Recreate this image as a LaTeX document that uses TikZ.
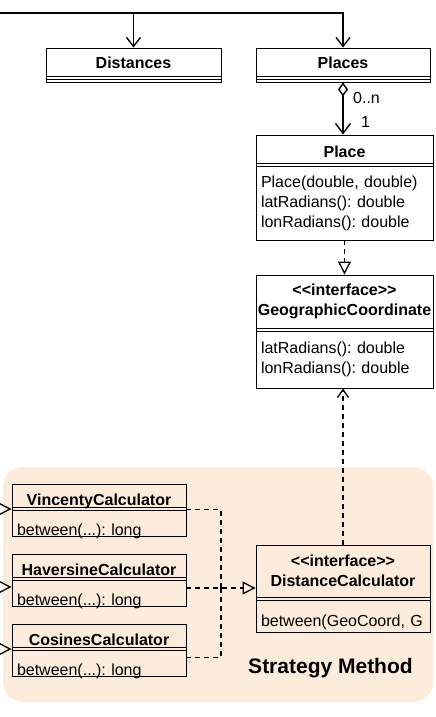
\documentclass[tikz,border=0pt]{standalone}
\usepackage{fontspec}
\setmainfont{Liberation Sans}
\usepackage{xcolor}
\definecolor{fdebdb}{HTML}{FDEBDB}
\usepackage{tikz}
\usetikzlibrary{arrows.meta}
\frenchspacing

\begin{document}
\begin{tikzpicture}[x=1pt, y=-1pt,
    cls/.style={draw, line width=0.9pt, inner sep=0pt},
    hdr/.style={cls, font=\bfseries\fontsize{16}{20}\selectfont, align=center},
    ops/.style={cls, font=\fontsize{16}{20}\selectfont, align=left, inner xsep=5pt},
    lbl/.style={inner sep=0pt, font=\fontsize{16}{20}\selectfont},
    panel/.style={fill=fdebdb, rounded corners=20pt, inner sep=0pt},
    assoc/.style={line width=1.4pt, -{Straight Barb[length=9pt, width=14pt]}},
    aggr/.style={line width=1.4pt, {Diamond[open, length=14pt, width=10pt]}-{Straight Barb[length=10pt, width=15pt]}},
    realize/.style={line width=1.3pt, dash pattern=on 5pt off 4pt, -{Triangle[open, length=13pt, width=13pt]}},
    depend/.style={line width=1.3pt, dash pattern=on 5pt off 4pt, -{Straight Barb[length=8pt, width=11pt]}},
    dep/.style={line width=1.3pt, dash pattern=on 5pt off 4pt},
    gen/.style={line width=1.3pt, -{Triangle[open, length=13pt, width=13pt]}}]
                        \useasboundingbox (0, 0) rectangle (436, 717);
                        \fill[white] (0, 0) rectangle (436, 717);
                        \clip (0, 0) rectangle (436, 717);

                        \node (strategy) at (218, 584.5) [panel, minimum width=430pt, minimum height=235pt] {};
                        \node (strat-lbl) at (330.5, 666) [inner sep=0pt, font=\bfseries\fontsize{21}{25}\selectfont, text height=15pt, text depth=0pt] {Strategy Method};

                        \node (dist) at (133.5, 62) [hdr, minimum width=175pt, minimum height=28pt, text height=13.6pt, text depth=0pt] {Distances};
                        \node (dist-a) at (133.5, 77.5) [cls, minimum width=175pt, minimum height=3pt] {};
                        \node (dist-m) at (133.5, 80.5) [cls, minimum width=175pt, minimum height=3pt] {};

                        \node (places) at (343, 62) [hdr, minimum width=174pt, minimum height=28pt, text height=13.6pt, text depth=0pt] {Places};
                        \node (places-a) at (343, 77.5) [cls, minimum width=174pt, minimum height=3pt] {};
                        \node (places-m) at (343, 80.5) [cls, minimum width=174pt, minimum height=3pt] {};

                        \node (place) at (344.5, 149) [hdr, minimum width=177pt, minimum height=28pt, text height=17.6pt, text depth=0pt] {Place};
                        \node (place-a) at (344.5, 164.5) [cls, minimum width=177pt, minimum height=3pt] {};
                        \node (place-m) at (344.5, 203) [ops, minimum width=177pt, minimum height=74pt, text width=167pt] {Place(double, double)\\latRadians(): double\\lonRadians(): double};

                        \node (geo) at (344.5, 301.5) [hdr, minimum width=177pt, minimum height=53pt] {<{}<interface>{}>\\GeographicCoordinate};
                        \node (geo-a) at (344.5, 329.5) [cls, minimum width=177pt, minimum height=3pt] {};
                        \node (geo-m) at (344.5, 359.5) [ops, minimum width=177pt, minimum height=57pt, text width=167pt] {latRadians(): double\\lonRadians(): double};

                        \node (vinc) at (99, 495.5) [hdr, minimum width=174pt, minimum height=23pt, text height=19.6pt, text depth=0pt] {VincentyCalculator};
                        \node (vinc-a) at (99, 508.5) [cls, minimum width=174pt, minimum height=3pt] {};
                        \node (vinc-m) at (99, 523) [ops, minimum width=174pt, minimum height=26pt, text width=164pt, text height=25.6pt, text depth=0pt] {between(...): long};

                        \node (hav) at (99, 565.5) [hdr, minimum width=174pt, minimum height=23pt, text height=19.6pt, text depth=0pt] {HaversineCalculator};
                        \node (hav-a) at (99, 578.5) [cls, minimum width=174pt, minimum height=3pt] {};
                        \node (hav-m) at (99, 593) [ops, minimum width=174pt, minimum height=26pt, text width=164pt, text height=25.6pt, text depth=0pt] {between(...): long};

                        \node (cos) at (99, 635.5) [hdr, minimum width=174pt, minimum height=23pt, text height=19.6pt, text depth=0pt] {CosinesCalculator};
                        \node (cos-a) at (99, 648.5) [cls, minimum width=174pt, minimum height=3pt] {};
                        \node (cos-m) at (99, 663) [ops, minimum width=174pt, minimum height=26pt, text width=164pt, text height=25.6pt, text depth=0pt] {between(...): long};

                        \node (calc) at (343, 571) [hdr, minimum width=174pt, minimum height=52pt] {<{}<interface>{}>\\DistanceCalculator};
                        \node (calc-a) at (343, 598.5) [cls, minimum width=174pt, minimum height=3pt] {};
                        \node (calc-m) at (343, 616) [ops, minimum width=174pt, minimum height=32pt, text width=164pt, text height=20.6pt, text depth=0pt] {between(GeoCoord, G};

                        \coordinate (src) at (0, 13);
                        \coordinate (merge) at (221, 588);
                        \coordinate (vinc-src) at (-20, 509);
                        \coordinate (hav-src) at (-20, 587);
                        \coordinate (cos-src) at (-20, 649);

                        \draw[assoc] (src) -| (dist);
                        \draw[assoc] (src) -| (places);
                        \draw[aggr] (places-m.south) -- (places-m.south |- place.north);
                        \node (mult-n) at (353, 98) [lbl, anchor=west] {0..n};
                        \node (mult-1) at (361, 122) [lbl, anchor=west] {1};
                        \draw[realize] (place-m) -- (geo);
                        \draw[depend] (calc.north) -- (calc.north |- geo-m.south);

                        \draw[dep] (vinc-m.north east) -| (merge);
                        \draw[dep] ([yshift=-8pt]cos-m.north east) -| (merge);
                        \draw[realize] (hav-m.east |- merge) -- (calc.west |- merge);

                        \draw[gen] (vinc-src) -- (vinc-src -| vinc.west);
                        \draw[gen] (hav-src) -- (hav-src -| hav.west);
                        \draw[gen] (cos-src) -- (cos-src -| cos.west);
                    \end{tikzpicture}
\end{document}
